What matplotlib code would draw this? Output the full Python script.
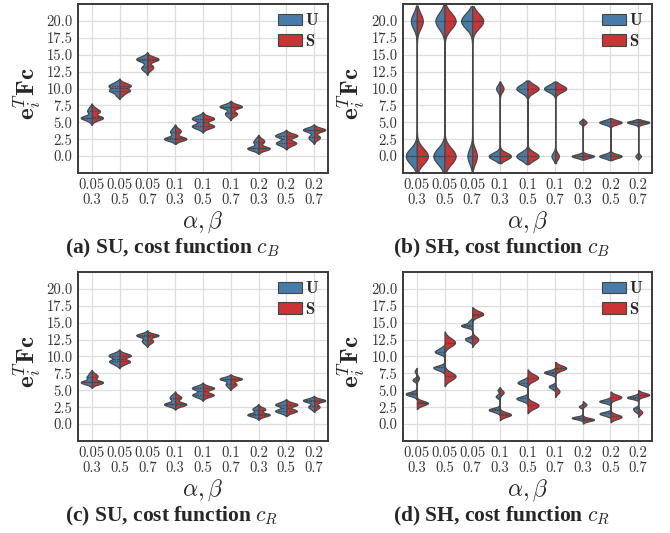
import matplotlib
matplotlib.use("Agg")
import matplotlib.pyplot as plt
from matplotlib.patches import Patch
import pandas as pd
import seaborn as sns

alpha_beta = ["0.05\n0.3", "0.05\n0.5", "0.05\n0.7",
              "0.1\n0.3", "0.1\n0.5", "0.1\n0.7",
              "0.2\n0.3", "0.2\n0.5", "0.2\n0.7"]
groups = ["U", "S"]
y_ticks = [0.0, 2.5, 5.0, 7.5, 10.0, 12.5, 15.0, 17.5, 20.0]

# (a) SU, cost function c_B
su_cb_u = [[5.2, 5.6, 5.7, 5.7, 5.7, 5.8, 6.6, 6.7, 7.2],
           [9.0, 9.6, 9.7, 9.8, 10.3, 10.4, 10.5, 10.9],
           [12.7, 13.1, 13.2, 14.2, 14.3, 14.3, 14.4, 14.7],
           [2.4, 2.5, 2.6, 2.6, 2.7, 3.5, 3.6, 4.1],
           [4.1, 4.4, 4.5, 4.6, 5.4, 5.5, 5.6, 5.9],
           [5.9, 6.3, 6.4, 7.2, 7.3, 7.3, 7.4, 7.6],
           [0.9, 1.1, 1.15, 1.2, 1.25, 2.0, 2.1, 2.6],
           [1.6, 1.9, 2.0, 2.1, 2.9, 3.0, 3.05, 3.3],
           [2.4, 2.8, 2.9, 3.8, 3.85, 3.9, 3.95, 4.1]]
su_cb_s = [[5.3, 5.6, 5.7, 5.7, 5.8, 6.5, 6.6, 6.7, 7.1],
           [9.1, 9.6, 9.7, 9.8, 10.3, 10.4, 10.5, 10.8],
           [12.8, 13.2, 13.3, 14.2, 14.3, 14.3, 14.4, 14.6],
           [2.4, 2.5, 2.6, 2.6, 2.7, 3.5, 3.7, 4.0],
           [4.2, 4.4, 4.5, 4.6, 5.4, 5.5, 5.6, 5.8],
           [6.0, 6.3, 6.4, 7.2, 7.3, 7.3, 7.4, 7.6],
           [0.9, 1.1, 1.15, 1.2, 1.25, 2.0, 2.2, 2.5],
           [1.6, 1.9, 2.0, 2.1, 2.9, 3.0, 3.05, 3.2],
           [2.5, 2.8, 2.9, 3.8, 3.85, 3.9, 3.95, 4.0]]

# (b) SH, cost function c_B
sh_cb_u = [[0] * 13 + [20] * 7, [0] * 11 + [20] * 9, [0] * 6 + [20] * 14,
           [0] * 15 + [10] * 5, [0] * 10 + [10] * 10, [0] * 5 + [10] * 15,
           [0] * 15 + [5] * 5, [0] * 10 + [5] * 10, [0] * 4 + [5] * 16]
sh_cb_s = [[0] * 13 + [20] * 7, [0] * 10 + [20] * 10, [0] * 6 + [20] * 14,
           [0] * 15 + [10] * 5, [0] * 10 + [10] * 10, [0] * 5 + [10] * 15,
           [0] * 15 + [5] * 5, [0] * 10 + [5] * 10, [0] * 4 + [5] * 16]

# (c) SU, cost function c_R
su_cr_u = [[5.9, 6.15, 6.2, 6.25, 6.3, 6.9, 7.0, 7.5],
           [8.8, 9.2, 9.3, 9.4, 10.0, 10.1, 10.2, 10.5],
           [11.9, 12.3, 12.4, 13.0, 13.1, 13.1, 13.2, 13.4],
           [2.7, 2.9, 2.95, 3.0, 3.05, 3.8, 3.9, 4.3],
           [4.0, 4.3, 4.4, 4.45, 5.2, 5.3, 5.35, 5.6],
           [5.5, 5.9, 6.0, 6.6, 6.65, 6.7, 6.75, 6.9],
           [1.1, 1.35, 1.4, 1.45, 1.5, 2.1, 2.2, 2.5],
           [1.7, 1.95, 2.0, 2.1, 2.8, 2.85, 2.9, 3.2],
           [2.3, 2.6, 2.7, 3.4, 3.45, 3.5, 3.55, 3.7]]
su_cr_s = [[5.9, 6.1, 6.2, 6.25, 6.3, 6.9, 7.1, 7.4],
           [8.9, 9.2, 9.3, 9.4, 10.0, 10.1, 10.2, 10.4],
           [12.0, 12.3, 12.4, 13.0, 13.1, 13.1, 13.2, 13.3],
           [2.7, 2.9, 2.95, 3.0, 3.05, 3.8, 3.9, 4.2],
           [4.1, 4.3, 4.4, 4.45, 5.2, 5.3, 5.35, 5.5],
           [5.6, 5.9, 6.0, 6.6, 6.65, 6.7, 6.75, 6.9],
           [1.1, 1.35, 1.4, 1.45, 1.5, 2.1, 2.2, 2.4],
           [1.7, 1.95, 2.0, 2.1, 2.8, 2.85, 2.9, 3.1],
           [2.3, 2.6, 2.7, 3.4, 3.45, 3.5, 3.55, 3.6]]

# (d) SH, cost function c_R
sh_cr_u = [[4.2, 4.35, 4.45, 4.5, 4.55, 4.7, 6.5, 6.6, 7.8],
           [8.0, 8.3, 8.4, 8.5, 10.5, 10.7, 10.8, 11.2],
           [12.3, 12.6, 12.7, 14.4, 14.55, 14.6, 14.7, 15.2],
           [1.8, 2.0, 2.1, 2.15, 2.2, 2.3, 4.0, 4.2, 5.0],
           [3.5, 3.75, 3.85, 3.95, 5.9, 6.1, 6.2, 6.5],
           [5.3, 5.6, 5.7, 7.4, 7.6, 7.65, 7.7, 7.9],
           [0.7, 0.85, 0.9, 0.95, 1.0, 1.1, 2.5, 2.7],
           [1.3, 1.5, 1.6, 1.7, 3.2, 3.35, 3.4, 3.6],
           [1.9, 2.2, 2.4, 3.8, 3.9, 3.95, 4.0, 4.2]]
sh_cr_s = [[2.8, 3.0, 3.1, 3.15, 3.2, 3.3, 6.8],
           [6.7, 7.1, 7.2, 7.3, 11.8, 12.0, 12.1, 12.6],
           [12.2, 12.6, 12.7, 16.1, 16.25, 16.3, 16.35, 16.5],
           [1.2, 1.3, 1.4, 1.45, 1.5, 1.6, 4.6, 4.8],
           [2.5, 2.75, 2.85, 2.95, 6.6, 6.8, 6.9, 7.2],
           [4.7, 5.0, 8.1, 8.25, 8.3, 8.35, 8.5],
           [0.5, 0.6, 0.65, 0.7, 0.75, 0.8, 2.8, 3.0],
           [0.9, 1.05, 1.15, 1.25, 3.8, 3.95, 4.0, 4.2],
           [1.6, 1.9, 4.2, 4.3, 4.35, 4.4, 4.5]]

palette = ["#377eb8", "#e41a1c"]

sns.set_style("whitegrid")
plt.rcParams["font.family"] = ["cmr10", "DejaVu Serif"]
plt.rcParams["mathtext.fontset"] = "cm"
plt.rcParams["axes.formatter.use_mathtext"] = True


def long_frame(u_lists, s_lists):
    rows = []
    for i, lab in enumerate(alpha_beta):
        for g, lists in (("U", u_lists), ("S", s_lists)):
            for v in lists[i]:
                rows.append((lab, g, v))
    return pd.DataFrame(rows, columns=["ab", "group", "value"])


panels = [
    (su_cb_u, su_cb_s, 0.7, [0.1164, 0.6754, 0.3731, 0.3171], r"(a) SU, cost function $c_B$"),
    (sh_cb_u, sh_cb_s, 0.21, [0.6015, 0.6754, 0.3716, 0.3171], r"(b) SH, cost function $c_B$"),
    (su_cr_u, su_cr_s, 0.7, [0.1164, 0.1726, 0.3731, 0.3171], r"(c) SU, cost function $c_R$"),
    (sh_cr_u, sh_cr_s, 0.3, [0.6015, 0.1726, 0.3716, 0.3171], r"(d) SH, cost function $c_R$"),
]
ylabel_x = [0.0425, 0.5255, 0.0425, 0.5255]
caption_x = [0.2567, 0.749, 0.2567, 0.749]

fig = plt.figure(figsize=(6.7, 5.33), dpi=100)
for k, (u, s, bw, rect, caption) in enumerate(panels):
    ax = fig.add_axes(rect)
    df = long_frame(u, s)
    sns.violinplot(data=df, x="ab", y="value", hue="group", order=alpha_beta,
                   hue_order=groups, split=True, inner="quart",
                   density_norm="width", bw_adjust=bw, palette=palette,
                   linewidth=0.9, ax=ax, legend=False)
    ax.set_xlim(-0.5, 8.5)
    ax.set_ylim(-2.5, 22.5)
    ax.set_yticks(y_ticks)
    ax.set_yticklabels([f"{t:.1f}" for t in y_ticks])
    ax.set_xticks(range(len(alpha_beta)))
    ax.set_xticklabels(alpha_beta)
    for lab in ax.get_xticklabels():
        lab.set_linespacing(1.05)
    ax.tick_params(axis="both", length=2.5, width=0.8, color="#444444",
                   labelsize=10.5, labelcolor="#333333", pad=1.5)
    ax.set_xlabel("")
    ax.set_ylabel("")
    ax.grid(True, color="#dddddd", linewidth=0.9)
    ax.set_axisbelow(True)
    for sp in ax.spines.values():
        sp.set_color("#3a3a3a")
        sp.set_linewidth(1.4)

    handles = [Patch(facecolor=sns.desaturate(c, 0.75), edgecolor="#444444", linewidth=0.8)
               for c in palette]
    ax.legend(handles, [r"$\mathbf{U}$", r"$\mathbf{S}$"], loc="upper right",
              bbox_to_anchor=(0.965, 0.95), frameon=False, fontsize=12,
              handlelength=1.4, handleheight=0.7, handletextpad=0.2,
              labelspacing=0.25, borderpad=0, borderaxespad=0)

    x0, y0, w, h = rect
    ty = y0 + h * 0.5 - 0.009
    fig.text(ylabel_x[k], ty, r"$\mathbf{e}_i^T\mathbf{Fc}$", rotation=90,
             fontsize=18, ha="center", va="center")
    fig.text(x0 + w / 2, y0 - 0.092, r"$\alpha, \beta$", fontsize=17,
             ha="center", va="center")
    fig.text(caption_x[k], y0 - 0.1425, caption, fontsize=15.5,
             fontfamily="Liberation Serif", fontweight="bold",
             ha="center", va="center")

fig.savefig("out.png", dpi=100)
